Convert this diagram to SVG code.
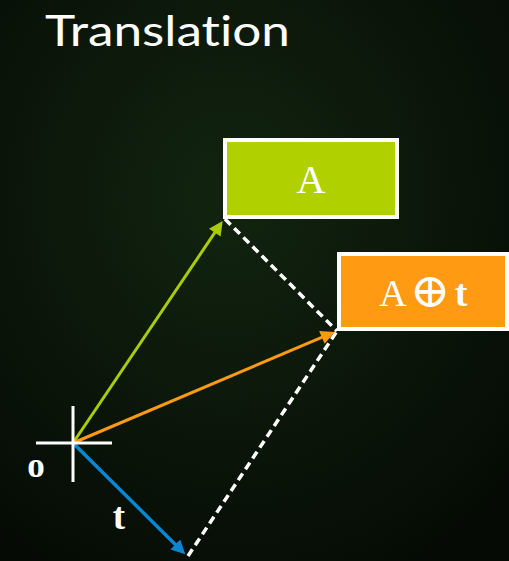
<svg xmlns="http://www.w3.org/2000/svg" width="509" height="561" viewBox="0 0 509 561">
  <defs>
    <radialGradient id="bg" cx="45%" cy="35%" r="75%">
      <stop offset="0" stop-color="#122410"/>
      <stop offset="1" stop-color="#050b04"/>
    </radialGradient>
    <marker id="ahG" viewBox="0 0 10 10" refX="4" refY="5" markerWidth="18" markerHeight="14" markerUnits="userSpaceOnUse" orient="auto">
      <path d="M0,0 L10,5 L0,10 z" fill="#a9cc06"/>
    </marker>
    <marker id="ahO" viewBox="0 0 10 10" refX="4" refY="5" markerWidth="18" markerHeight="14" markerUnits="userSpaceOnUse" orient="auto">
      <path d="M0,0 L10,5 L0,10 z" fill="#ff9a12"/>
    </marker>
    <marker id="ahB" viewBox="0 0 10 10" refX="4" refY="5" markerWidth="18" markerHeight="14" markerUnits="userSpaceOnUse" orient="auto">
      <path d="M0,0 L10,5 L0,10 z" fill="#0a86d2"/>
    </marker>
  </defs>
  <style>
    .title { font-family: Lato, "Noto Sans", sans-serif; font-weight: 400; font-size: 42px; fill: #ffffff; font-variant-ligatures: none; }
    .lbl { font-family: "Liberation Serif", "DejaVu Serif", serif; fill: #ffffff; }
    .box { stroke: #ffffff; stroke-width: 4; }
    .dash { stroke: #ffffff; stroke-width: 3.5; stroke-dasharray: 8 5; fill: none; }
    .axis { stroke: #ffffff; stroke-width: 3; }
  </style>
  <rect x="0" y="0" width="509" height="561" fill="url(#bg)"/>
  <text class="title" x="45" y="46" textLength="245" lengthAdjust="spacingAndGlyphs">Translation</text>

  <g id="connectors">
    <line class="dash" x1="225" y1="219" x2="337" y2="331"/>
    <line class="dash" x1="188" y1="556" x2="337" y2="331"/>
    <line x1="73" y1="443" x2="217.96" y2="227.95" stroke="#a9cc06" stroke-width="3" marker-end="url(#ahG)"/>
    <line x1="73" y1="443" x2="327.06" y2="335.22" stroke="#ff9a12" stroke-width="3" marker-end="url(#ahO)"/>
    <line x1="73" y1="443" x2="179.33" y2="548.4" stroke="#0a86d2" stroke-width="3.5" marker-end="url(#ahB)"/>
  </g>

  <g id="origin">
    <line class="axis" x1="36" y1="443" x2="112" y2="443"/>
    <line class="axis" x1="73" y1="406" x2="73" y2="482"/>
    <text class="lbl" x="36" y="477" font-size="35" font-weight="bold" text-anchor="middle">o</text>
  </g>

  <g id="label-t">
    <text class="lbl" x="119" y="529" font-size="37" font-weight="bold" text-anchor="middle">t</text>
  </g>

  <g id="node-A">
    <rect class="box" x="225" y="140" width="172" height="77" fill="#b0d000"/>
    <text class="lbl" x="311" y="193" font-size="40" text-anchor="middle">A</text>
  </g>

  <g id="node-At">
    <rect class="box" x="339" y="254" width="168" height="75" fill="#ff9a12"/>
    <text class="lbl" x="393" y="306" font-size="38" text-anchor="middle">A</text>
    <text class="lbl" x="430" y="306.5" font-size="48" font-weight="100" font-family="'Noto Sans CJK JP', 'DejaVu Sans', sans-serif" text-anchor="middle">⊕</text>
    <text class="lbl" x="461" y="306" font-size="38" font-weight="bold" text-anchor="middle">t</text>
  </g>
</svg>
